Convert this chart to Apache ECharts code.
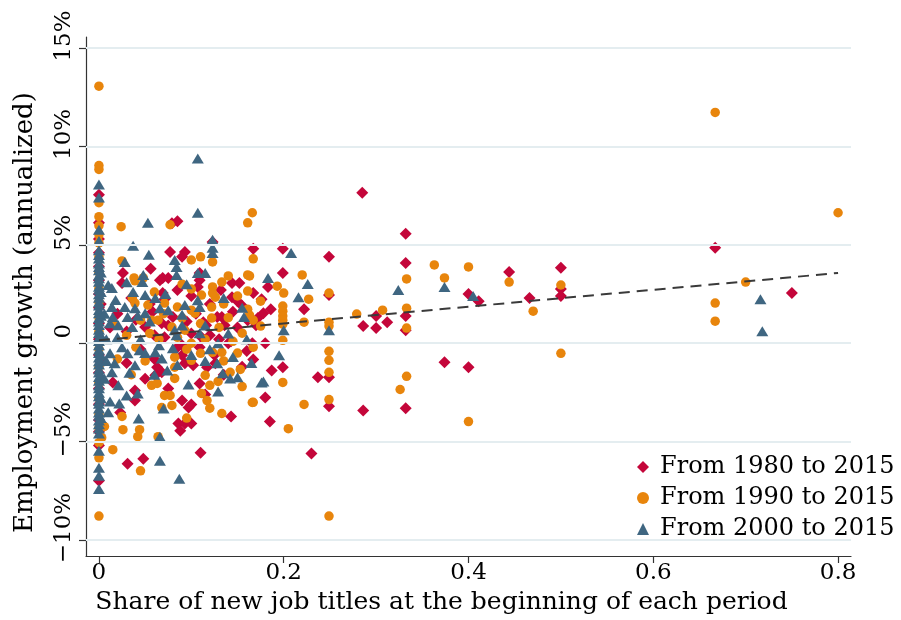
<!DOCTYPE html>
<html>
<head>
<meta charset="utf-8">
<script src="https://cdn.jsdelivr.net/npm/echarts/dist/echarts.min.js"></script>
<style>html,body{margin:0;padding:0;background:#fff}#c{width:901px;height:620px}</style>
</head>
<body>
<div id="c"></div>
<script>
// ---- Data (share of new job titles, annualized employment growth %) ----
const seriesNames = ['From 1980 to 2015', 'From 1990 to 2015', 'From 2000 to 2015'];

const red1980 = [
 [0,7.55],[0,6.12],[0,5.3],[0,4.6],[0,3.9],[0,3.2],[0,2.5],[0,1.8],[0,1.0],[0,0.2],[0,-0.6],[0,-1.5],[0,-2.3],[0,-3.1],[0,-3.9],[0,-4.5],[0,-5.2],[0,-6.99],[0.002,2.0],[0.002,-1.0],
 [0.079,6.1],[0.085,6.2],[0.077,4.64],[0.093,4.64],[0.09,4.39],[0.056,3.78],[0.026,3.57],[0.025,3.06],[0.069,3.32],[0.075,3.32],[0.066,3.2],
 [0.109,3.57],[0.109,3.2],[0.107,2.86],[0.144,3.06],[0.152,3.06],[0.132,2.7],[0.144,2.34],[0.15,2.14],[0.176,2.24],[0.069,2.55],[0.071,2.24],
 [0.08,1.33],[0.128,1.33],[0.133,1.33],[0.113,1.07],[0.116,0.92],[0.136,0.92],[0.161,1.17],[0.172,1.28],[0.17,0.92],[0.068,1.02],[0.05,0.82],
 [0.071,0.31],[0.085,-0.2],[0.109,-0.2],[0.111,0.31],[0.14,0],[0.166,0],[0.123,5.15],
 [0.143,0.1],[0.09,-0.1],[0.09,-0.61],[0.093,-1.02],[0.102,-1.12],[0.063,-1.22],[0.068,-1.48],[0.061,-1.63],[0.109,-2.04],[0.039,-2.4],[0.039,-2.91],
 [0.117,-1.22],[0.126,-1.02],[0.09,-2.91],[0.1,-3.11],[0.097,-3.27],[0.143,-3.72],[0.086,-4.08],[0.093,-4.08],[0.1,-4.08],[0.088,-4.44],[0.023,-3.52],
 [0.11,-5.56],[0.048,-5.87],[0.031,-6.12],
 [0.02,1.5],[0.03,0.6],[0.04,1.2],[0.045,-0.3],[0.058,1.6],[0.06,0.4],[0.075,0.9],[0.095,1.1],[0.1,0.5],[0.105,1.5],[0.12,0.4],[0.125,-0.6],[0.13,0.2],
 [0.15,0.8],[0.155,1.9],[0.16,-0.4],[0.12,2.0],[0.1,2.4],[0.085,2.7],[0.055,2.0],[0.035,2.3],[0.03,-1.0],[0.05,-1.8],[0.075,-2.3],[0.115,-2.6],
 [0.135,-1.6],[0.155,-1.2],[0.06,-0.8],[0.145,1.6],[0.015,-2.0],[0.012,0.8],
 [0.285,7.65],[0.332,5.56],[0.332,4.08],[0.332,1.38],[0.332,0.66],[0.332,-3.3],[0.374,-0.97],[0.40,-1.22],[0.444,3.62],[0.466,2.3],[0.50,3.83],
 [0.50,2.76],[0.50,2.4],[0.40,2.5],[0.411,2.14],[0.286,0.87],[0.30,0.77],[0.30,1.38],[0.312,1.07],[0.286,-3.42],[0.249,4.39],[0.249,2.45],
 [0.237,-1.73],[0.249,-1.73],[0.249,-3.2],[0.199,4.8],[0.199,3.57],[0.199,-1.22],[0.187,-1.38],[0.18,0],[0.18,-2.76],[0.185,-3.98],[0.222,1.73],
 [0.183,2.86],[0.186,1.73],[0.178,1.53],[0.167,4.8],[0.167,2.55],[0.167,-0.82],[0.23,-5.6],
 [0.667,4.85],[0.75,2.55]
];

const orange1990 = [
 [0,13.06],[0,9.03],[0,8.83],[0,7.14],[0,6.43],[0,5.97],[0,5.51],[0,5.1],[0,4.4],[0,3.6],[0,2.8],[0,2.1],[0,1.3],[0,0.6],[0,-0.3],[0,-1.2],[0,-2.0],
 [0,-2.8],[0,-3.6],[0,-4.3],[0,-5.05],[0,-5.82],[0,-8.78],[0.003,-4.8],
 [0.024,5.92],[0.077,6.02],[0.166,6.63],[0.161,6.12],[0.025,4.18],[0.1,4.23],[0.11,4.39],[0.123,4.13],[0.167,4.29],[0.038,3.32],[0.048,3.32],
 [0.14,3.42],[0.161,3.47],[0.133,3.11],[0.123,2.86],[0.1,2.76],[0.111,2.45],[0.126,2.34],[0.161,2.65],[0.036,2.3],[0.039,2.04],[0.053,1.94],
 [0.071,2.04],[0.085,1.84],[0.1,1.68],[0.104,1.53],[0.122,1.84],[0.122,1.28],[0.161,1.73],[0.045,1.17],[0.057,1.17],[0.064,1.17],[0.09,1.28],
 [0.079,0.82],[0.093,0.66],[0.155,0.51],[0.123,2.55],[0.039,3.17],
 [0.1,0],[0.11,-0.51],[0.123,-0.46],[0.133,-0.46],[0.082,-0.71],[0.082,-1.22],[0.1,-0.87],[0.115,-1.63],[0.142,-1.48],[0.153,-1.33],[0.129,-1.94],
 [0.12,-2.14],[0.111,-2.55],[0.117,-2.91],[0.082,-1.79],[0.057,-2.14],[0.063,-2.04],[0.071,-2.65],[0.077,-2.65],[0.068,-3.27],[0.079,-3.16],
 [0.166,-3.01],[0.133,-3.57],[0.025,-3.72],[0.006,-4.23],[0.026,-4.39],[0.044,-4.39],[0.042,-4.75],[0.064,-4.75],[0.015,-5.41],[0.045,-6.48],
 [0.015,1.0],[0.03,0.4],[0.04,-0.2],[0.055,0.5],[0.065,0.2],[0.07,1.5],[0.085,0.3],[0.11,1.0],[0.115,0.2],[0.13,0.8],[0.14,1.3],[0.145,0.1],
 [0.15,-0.5],[0.135,-0.9],[0.095,-0.3],[0.05,-0.9],[0.035,-1.6],[0.02,-0.8],[0.06,2.6],[0.09,3.0],[0.135,2.0],[0.15,2.4],[0.155,-2.2],[0.12,-3.3],[0.095,-3.8],
 [0.363,3.98],[0.40,3.88],[0.374,3.32],[0.333,3.27],[0.444,3.11],[0.50,2.96],[0.47,1.63],[0.50,-0.51],[0.40,-3.98],[0.326,-2.35],[0.333,-1.68],
 [0.333,0.77],[0.333,1.78],[0.307,1.68],[0.279,1.48],[0.249,2.55],[0.249,-0.41],[0.249,-0.87],[0.249,-1.48],[0.249,-2.86],[0.249,1.07],[0.249,0.87],
 [0.249,-8.78],[0.222,-3.11],[0.205,-4.34],[0.199,0.15],[0.199,-1.99],[0.199,1.89],[0.199,1.63],[0.199,1.38],[0.199,1.17],[0.199,0.97],[0.222,1.07],
 [0.227,2.24],[0.22,3.47],[0.193,2.9],[0.2,2.55],[0.175,2.14],[0.163,3.42],[0.167,1.17],[0.175,0.87],[0.167,-0.2],[0.167,-3.0],[0.163,1.43],
 [0.667,11.73],[0.8,6.63],[0.70,3.11],[0.667,2.04],[0.667,1.12]
];

const blue2000 = [
 [0,8.06],[0,7.4],[0,5.77],[0,5.2],[0,4.72],[0,4.48],[0,4.31],[0,4.05],[0,3.88],[0,3.71],[0,3.46],[0,3.3],[0,3.12],[0,2.87],[0,2.72],[0,2.49],
 [0,2.31],[0,2.08],[0,1.92],[0,1.69],[0,1.52],[0,1.28],[0,1.11],[0,0.93],[0,0.68],[0,0.52],[0,0.29],[0,0.12],[0,-0.1],[0,-0.33],[0,-0.49],[0,-0.72],
 [0,-0.91],[0,-1.08],[0,-1.32],[0,-1.49],[0,-1.71],[0,-1.9],[0,-2.13],[0,-2.29],[0,-2.52],[0,-2.69],[0,-2.93],[0,-3.08],[0,-3.31],[0,-3.52],[0,-3.68],
 [0,-3.92],[0,-4.11],[0,-4.33],[0,-4.59],[0,-5.46],[0,-6.33],[0,-6.73],[0,-7.4],
 [0.002,3.6],[0.002,2.6],[0.002,1.4],[0.002,0.4],[0.002,-0.6],[0.002,-1.6],[0.002,-2.8],[0.002,-3.8],
 [0.107,9.39],[0.107,6.63],[0.053,6.12],[0.037,4.95],[0.028,4.13],[0.054,4.49],[0.123,5.26],[0.123,4.85],[0.123,4.59],[0.082,4.23],[0.084,3.88],
 [0.084,3.47],[0.107,3.57],[0.115,3.57],[0.048,3.47],[0.047,3.11],[0.01,2.96],[0.014,2.81],[0.037,2.6],[0.05,2.45],[0.061,2.3],[0.107,2.19],
 [0.093,1.94],[0.109,1.84],[0.066,1.78],[0.075,1.68],[0.028,1.84],[0.039,1.78],[0.014,1.84],[0.015,1.33],[0.031,1.33],[0.05,1.53],[0.012,1.02],
 [0.021,0.92],[0.036,0.82],[0.082,0.66],[0.084,0.41],[0.109,0.51],[0.157,1.33],[0.129,0],
 [0.08,-0.26],[0.061,-0.46],[0.044,-0.36],[0.031,-0.51],[0.012,-0.51],[0.068,-0.77],[0.128,-1.02],[0.039,-1.12],[0.017,-1.02],[0.014,-1.48],
 [0.074,-1.38],[0.134,-1.53],[0.142,-1.79],[0.15,-1.73],[0.097,-2.09],[0.021,-2.14],[0.03,-2.65],[0.042,-2.55],[0.129,-2.45],[0.012,-2.96],
 [0.022,-3.06],[0.07,-3.32],[0.043,-3.83],[0.066,-4.75],[0.066,-5.97],[0.176,-1.99],[0.087,-6.89],
 [0.02,0.3],[0.025,-0.2],[0.045,0.2],[0.055,1.1],[0.065,-0.1],[0.09,0.9],[0.1,-0.6],[0.115,0.9],[0.12,-0.3],[0.14,0.5],[0.06,-1.6],[0.033,-1.5],
 [0.018,2.2],[0.042,1.4],[0.072,2.5],[0.095,3.0],[0.135,2.3],[0.155,1.8],[0.16,0.2],[0.145,-0.7],[0.008,0.2],[0.008,-0.9],[0.006,1.5],[0.006,-1.8],
 [0.01,-3.5],[0.03,3.1],[0.115,-0.9],[0.085,-1.1],[0.05,-0.5],[0.165,-1.0],[0.09,1.45],
 [0.208,4.59],[0.183,3.32],[0.226,3.01],[0.216,2.34],[0.249,0.66],[0.2,0.66],[0.195,-0.61],[0.178,-1.94],[0.324,2.7],[0.374,2.86],[0.405,2.4],
 [0.716,2.24],[0.718,0.61]
];

// Fitted (dashed) line endpoints
const fitLine = [[0, 0.15], [0.8, 3.57]];

// Tick values
const xTicks = [0, 0.2, 0.4, 0.6, 0.8];
const yTicks = [-10, -5, 0, 5, 10, 15];

const FONT = 'DejaVu Serif';
const colors = ['#c4063a', '#e8850c', '#3f6681'];

const chart = echarts.init(document.getElementById('c'), null, {renderer: 'canvas'});
chart.setOption({
  animation: false,
  backgroundColor: '#fff',
  grid: {left: 86, right: 50, top: 37, bottom: 64, containLabel: false},
  xAxis: {
    type: 'value', min: -0.014, max: 0.814,
    axisLine: {show: true, onZero: false, lineStyle: {color: '#333', width: 1.2}},
    axisTick: {show: true, customValues: xTicks, length: 7, lineStyle: {color: '#333', width: 1.2}},
    axisLabel: {customValues: xTicks, margin: 6, color: '#000', fontFamily: FONT, fontSize: 23,
      formatter: v => (v === 0 ? '0' : String(+v.toFixed(1)))},
    splitLine: {show: false},
    name: 'Share of new job titles at the beginning of each period',
    nameLocation: 'middle', nameGap: 33,
    nameTextStyle: {color: '#000', fontFamily: FONT, fontSize: 25, padding: [0, 54, 0, 0]}
  },
  yAxis: {
    type: 'value', min: -10.81, max: 15.56,
    axisLine: {show: true, onZero: false, lineStyle: {color: '#333', width: 1.2}},
    axisTick: {show: true, customValues: yTicks, length: 7, lineStyle: {color: '#333', width: 1.2}},
    axisLabel: {customValues: yTicks, rotate: 90, margin: 10, color: '#000', fontFamily: FONT, fontSize: 23,
      padding: [0, 0, 0, 24],
      formatter: v => (v === 0 ? '0' : (v < 0 ? '\u2212' + (-v) : v) + '%')},
    splitLine: {show: false},
    name: 'Employment growth (annualized)',
    nameLocation: 'middle', nameGap: 48, nameRotate: 90,
    nameTextStyle: {color: '#000', fontFamily: FONT, fontSize: 26, padding: [0, 32, 0, 0]}
  },
  legend: {
    orient: 'vertical', left: 637, top: 455, padding: 0,
    itemWidth: 12, itemHeight: 12, itemGap: 7,
    data: [
      {name: seriesNames[0], icon: 'diamond'},
      {name: seriesNames[1], icon: 'circle'},
      {name: seriesNames[2], icon: 'triangle'}
    ],
    textStyle: {color: '#000', fontFamily: FONT, fontSize: 24, lineHeight: 24, padding: [0, 0, 0, 6]}
  },
  series: [
    {
      type: 'line', name: 'grid', data: [], silent: true, z: 0,
      markLine: {silent: true, symbol: 'none', label: {show: false},
        lineStyle: {color: '#e4edf0', width: 1.8, type: 'solid'},
        data: yTicks.map(v => ({yAxis: v}))}
    },
    {type: 'scatter', name: seriesNames[0], data: red1980, symbol: 'diamond', symbolSize: 12,
      itemStyle: {color: colors[0], opacity: 1}, z: 2},
    {type: 'scatter', name: seriesNames[1], data: orange1990, symbol: 'circle', symbolSize: 9.5,
      itemStyle: {color: colors[1], opacity: 1}, z: 3},
    {type: 'scatter', name: seriesNames[2], data: blue2000, symbol: 'triangle', symbolSize: [12, 10],
      itemStyle: {color: colors[2], opacity: 1}, z: 4},
    {type: 'line', name: 'fit', data: fitLine, symbol: 'none', silent: true, z: 6,
      lineStyle: {color: '#3a3a3a', width: 2, type: [11, 7]}}
  ]
});
</script>
</body>
</html>
